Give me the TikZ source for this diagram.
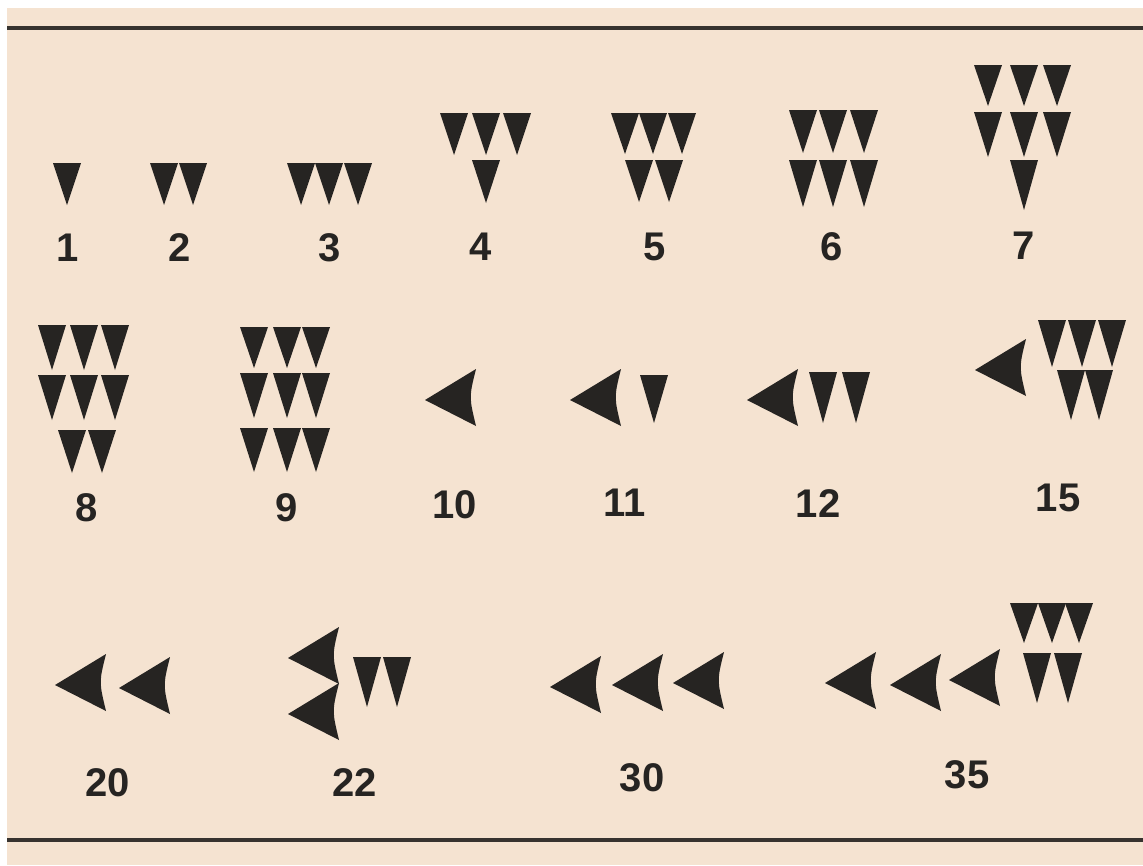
\documentclass[tikz,border=0pt]{standalone}
\usepackage{fontspec}
\setmainfont{Liberation Sans}
\definecolor{paper}{RGB}{245,227,209}
\definecolor{ink}{RGB}{38,36,34}
\definecolor{rulecol}{RGB}{55,51,47}
\tikzset{
  numlabel/.style={font=\bfseries\fontsize{40}{40}\selectfont, text=ink, inner sep=0pt},
  wedgefill/.style={fill=ink},
  hrule/.style={draw=rulecol, line width=3.5pt}
}
% vertical wedge: [height]{x centre}{y top}
\newcommand\vw[3][44]{\fill[wedgefill] (#2-14,#3) -- (#2+14,#3) -- (#2,#3+#1) -- cycle;}
% Winkelhaken: {x point}{y point}
\newcommand\wh[2]{\fill[wedgefill] (#1,#2) -- (#1+51,#2-31) .. controls (#1+44,#2-3) .. (#1+51,#2+26) -- cycle;}
\begin{document}
\begin{tikzpicture}[x=1pt,y=-1pt]
\useasboundingbox (0,0) rectangle (1143,865);
\fill[white] (0,0) rectangle (1143,865);
\fill[paper] (7,8) rectangle (1143,865);
\coordinate (tl) at (7,28);
\coordinate (tr) at (1143,28);
\coordinate (bl) at (7,840);
\coordinate (br) at (1143,840);
\draw[hrule] (tl) -- (tr);
\draw[hrule] (bl) -- (br);

% ---- row 1 ----
\vw[42]{67}{163}
\node[numlabel] (n1) at (68,248) {1};
\vw[42]{164}{163} \vw[42]{193}{163}
\node[numlabel] (n2) at (180,248) {2};
\vw[42]{301}{163} \vw[42]{329}{163} \vw[42]{358}{163}
\node[numlabel] (n3) at (330,248) {3};
\vw[42]{454}{113} \vw[42]{486}{113} \vw[42]{517}{113}
\vw[43]{486}{160}
\node[numlabel] (n4) at (481,247) {4};
\vw[41]{625}{113} \vw[41]{653}{113} \vw[41]{682}{113}
\vw[42]{639}{160} \vw[42]{669}{160}
\node[numlabel] (n5) at (655,247) {5};
\vw[43]{803}{110} \vw[43]{833}{110} \vw[43]{864}{110}
\vw[47]{803}{160} \vw[47]{833}{160} \vw[47]{864}{160}
\node[numlabel] (n6) at (832,247) {6};
\vw[41]{988}{65} \vw[41]{1024}{65} \vw[41]{1057}{65}
\vw[45]{988}{112} \vw[45]{1024}{112} \vw[45]{1057}{112}
\vw[50]{1024}{160}
\node[numlabel] (n7) at (1024,246) {7};

% ---- row 2 ----
\vw[45]{52}{325} \vw[45]{84}{325} \vw[45]{115}{325}
\vw[45]{52}{375} \vw[45]{84}{375} \vw[45]{115}{375}
\vw[43]{72}{430} \vw[43]{102}{430}
\node[numlabel] (n8) at (87,508) {8};
\vw[41]{254}{327} \vw[41]{287}{327} \vw[41]{316}{327}
\vw[45]{254}{373} \vw[45]{287}{373} \vw[45]{316}{373}
\vw[44]{254}{428} \vw[44]{287}{428} \vw[44]{316}{428}
\node[numlabel] (n9) at (287,508) {9};
\wh{425}{400}
\node[numlabel] (n10) at (455,505) {10};
\wh{570}{400}
\vw[48]{654}{375}
\node[numlabel] (n11) at (625,503) {11};
\wh{747}{400}
\vw[51]{823}{372} \vw[51]{856}{372}
\node[numlabel] (n12) at (818,504) {12};
\wh{975}{370}
\vw[47]{1052}{320} \vw[47]{1082}{320} \vw[47]{1112}{320}
\vw[50]{1071}{370} \vw[50]{1099}{370}
\node[numlabel] (n15) at (1058,498) {15};

% ---- row 3 ----
\wh{55}{685} \wh{119}{688}
\node[numlabel] (n20) at (108,783) {20};
\wh{288}{658} \wh{288}{714}
\vw[50]{367}{657} \vw[50]{397}{657}
\node[numlabel] (n22) at (355,783) {22};
\wh{550}{687} \wh{612}{685} \wh{673}{683}
\node[numlabel] (n30) at (642,778) {30};
\wh{825}{683} \wh{890}{685} \wh{949}{680}
\vw[40]{1024}{603} \vw[40]{1052}{603} \vw[40]{1079}{603}
\vw[50]{1037}{653} \vw[50]{1068}{653}
\node[numlabel] (n35) at (967,775) {35};
\end{tikzpicture}
\end{document}
